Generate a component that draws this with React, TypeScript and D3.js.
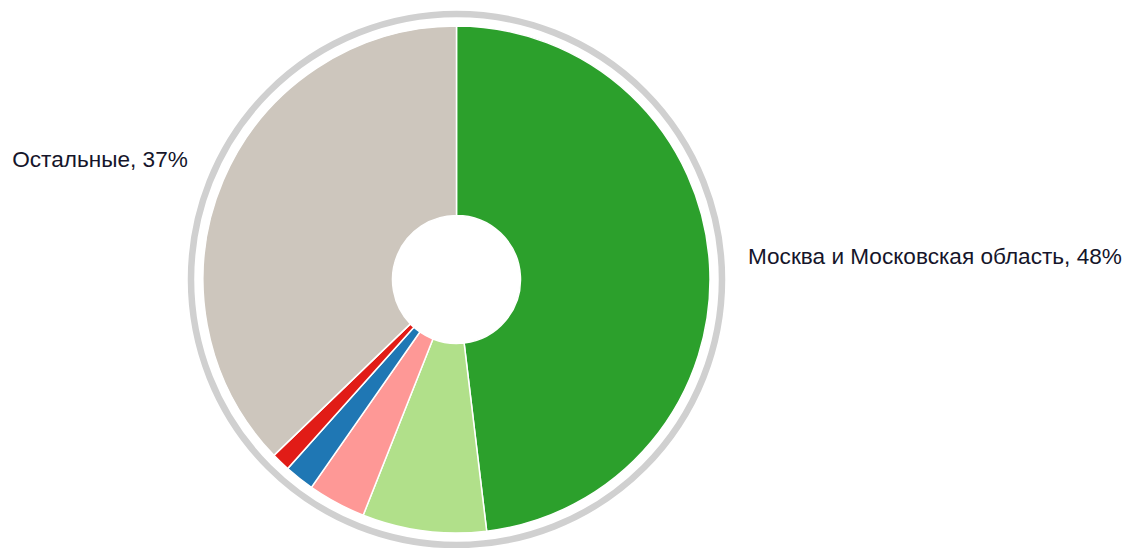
import React from "react";
import * as d3 from "d3";

const categories = ["Москва и Московская область", "Категория 2", "Категория 3", "Категория 4", "Категория 5", "Остальные"];
const values = [48.1, 7.9, 3.7, 1.9, 1.2, 37.2];
const labels = ["48%", "", "", "", "", "37%"];
const colors = ["#2ca02c", "#b1e08a", "#fe9896", "#1f77b4", "#e11c17", "#cdc6bd"];

const W = 1126;
const H = 548;
const cx = 456.5;
const cy = 279.5;
const outerR = 253.5;
const innerR = 64;
const ringR = 265.5;
const labelR = 292;

export default function App() {
  const pie = d3.pie<number>().sort(null).value((d) => d)(values);
  const arc = d3.arc<d3.PieArcDatum<number>>().innerRadius(innerR).outerRadius(outerR);
  const labelArc = d3.arc<d3.PieArcDatum<number>>().innerRadius(labelR).outerRadius(labelR);
  return (
    <svg width={W} height={H} style={{ position: "absolute", left: 0, top: 0 }}>
      <circle cx={cx} cy={cy} r={ringR} fill="none" stroke="#d0d0d0" strokeWidth={6.5} />
      <g transform={`translate(${cx},${cy})`}>
        {pie.map((p, i) => (
          <path key={i} d={arc(p) || ""} fill={colors[i]} stroke="#fff" strokeWidth={1.5} />
        ))}
        {pie.map((p, i) => {
          if (!labels[i]) return null;
          const [x, y] = labelArc.centroid(p);
          const mid = (p.startAngle + p.endAngle) / 2;
          const anchor = mid < Math.PI ? "start" : "end";
          return (
            <text
              key={"l" + i}
              x={x}
              y={y}
              dy="0.1em"
              textAnchor={anchor}
              fontFamily="Liberation Sans, Arial, sans-serif"
              fontSize={22.6}
              fill="#15152a"
            >
              {categories[i]}, {labels[i]}
            </text>
          );
        })}
      </g>
    </svg>
  );
}
